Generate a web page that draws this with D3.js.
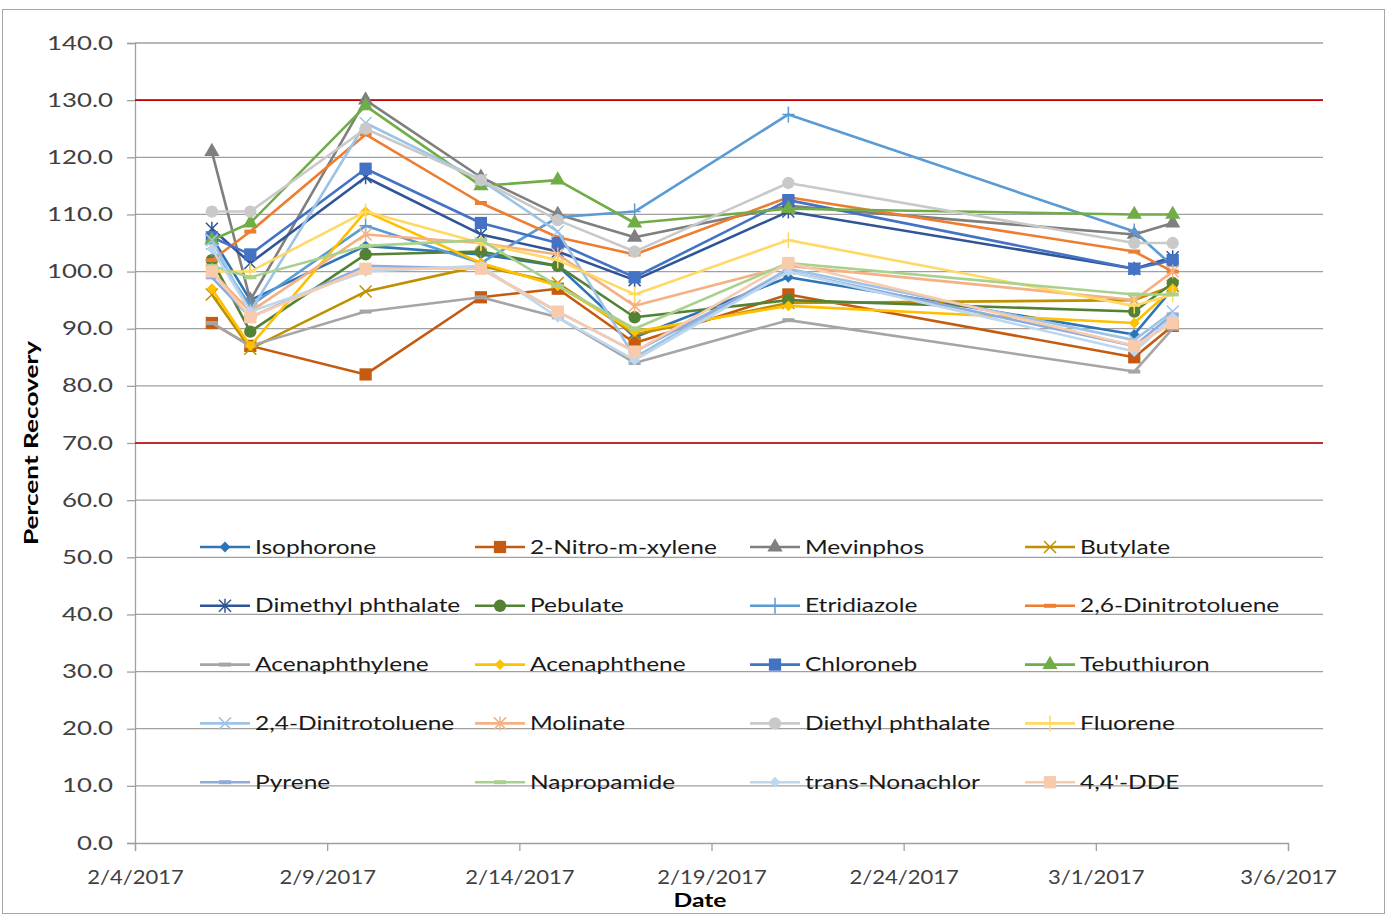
<!DOCTYPE html>
<html>
<head>
<meta charset="utf-8">
<script src="https://cdn.jsdelivr.net/npm/d3@7"></script>
<style>
  body { margin: 0; background: #fff; }
  svg { font-family: Lato, "Open Sans", sans-serif; }
</style>
</head>
<body>
<div id="chart"></div>
<script>
// Sample dates and percent recovery per compound
const dates = ["2/6/2017", "2/7/2017", "2/10/2017", "2/13/2017", "2/15/2017", "2/17/2017", "2/21/2017", "3/2/2017", "3/3/2017"];
const xTickLabels = ["2/4/2017", "2/9/2017", "2/14/2017", "2/19/2017", "2/24/2017", "3/1/2017", "3/6/2017"];
const yTicks = [0, 10, 20, 30, 40, 50, 60, 70, 80, 90, 100, 110, 120, 130, 140];
const limits = [70, 130];

const isophorone       = [106.0, 95.0, 104.5, 103.0, 101.0, 88.5, 99.0, 89.0, 97.0];
const nitroXylene      = [91.0, 87.0, 82.0, 95.5, 97.0, 87.5, 96.0, 85.0, 90.5];
const mevinphos        = [121.0, 95.0, 130.0, 116.5, 110.0, 106.0, 111.5, 106.5, 108.5];
const butylate         = [96.0, 86.5, 96.5, 101.0, 98.0, 89.0, 94.5, 95.0, 97.5];
const dimethylPhth     = [107.5, 101.5, 116.5, 106.5, 103.5, 98.5, 110.5, 100.5, 102.5];
const pebulate         = [102.0, 89.5, 103.0, 103.5, 101.0, 92.0, 95.0, 93.0, 98.0];
const etridiazole      = [104.0, 94.0, 108.0, 101.5, 109.5, 110.5, 127.5, 107.0, 101.0];
const dnt26            = [102.0, 107.0, 124.0, 112.0, 106.0, 103.0, 113.0, 103.5, 100.0];
const acenaphthylene   = [91.0, 87.0, 93.0, 95.5, 92.0, 84.0, 91.5, 82.5, 90.0];
const acenaphthene     = [97.0, 87.0, 110.5, 101.5, 97.5, 89.5, 94.0, 91.0, 97.0];
const chloroneb        = [106.0, 103.0, 118.0, 108.5, 105.0, 99.0, 112.5, 100.5, 102.0];
const tebuthiuron      = [105.5, 108.5, 129.0, 115.0, 116.0, 108.5, 111.0, 110.0, 110.0];
const dnt24            = [105.5, 93.0, 126.0, 116.0, 107.0, 85.0, 100.5, 88.0, 93.0];
const molinate         = [100.0, 93.0, 106.5, 105.0, 103.0, 94.0, 101.0, 95.0, 100.0];
const diethylPhth      = [110.5, 110.5, 125.0, 116.0, 109.0, 103.5, 115.5, 105.0, 105.0];
const fluorene         = [100.0, 100.0, 110.5, 105.0, 102.0, 96.0, 105.5, 94.0, 96.0];
const pyrene           = [99.0, 92.0, 101.0, 100.5, 93.0, 86.0, 100.0, 87.0, 92.5];
const napropamide      = [101.0, 99.0, 104.5, 105.5, 97.5, 90.0, 101.5, 96.0, 96.0];
const transNonachlor   = [104.0, 93.0, 100.0, 101.0, 92.0, 84.5, 100.0, 86.0, 92.0];
const dde              = [100.0, 92.0, 100.5, 100.5, 93.0, 86.0, 101.5, 87.0, 91.0];

const seriesNames = ["Isophorone", "2-Nitro-m-xylene", "Mevinphos", "Butylate",
  "Dimethyl phthalate", "Pebulate", "Etridiazole", "2,6-Dinitrotoluene",
  "Acenaphthylene", "Acenaphthene", "Chloroneb", "Tebuthiuron",
  "2,4-Dinitrotoluene", "Molinate", "Diethyl phthalate", "Fluorene",
  "Pyrene", "Napropamide", "trans-Nonachlor", "4,4'-DDE"];
const seriesValues = [isophorone, nitroXylene, mevinphos, butylate,
  dimethylPhth, pebulate, etridiazole, dnt26,
  acenaphthylene, acenaphthene, chloroneb, tebuthiuron,
  dnt24, molinate, diethylPhth, fluorene,
  pyrene, napropamide, transNonachlor, dde];
const seriesColors = ["#2E75B6", "#C55A11", "#7F7F7F", "#BF9000",
  "#2F5597", "#548235", "#5B9BD5", "#ED7D31",
  "#A5A5A5", "#FFC000", "#4472C4", "#70AD47",
  "#9DC3E6", "#F4B183", "#C9C9C9", "#FFD966",
  "#8FAADC", "#A9D18E", "#BDD7EE", "#F8CBAD"];
const seriesMarkers = ["diamond", "square", "triangle", "x", "star", "circle", "plus", "dash",
  "dash", "diamond", "square", "triangle", "x", "star", "circle", "plus",
  "dash", "dash", "diamond", "square"];

const W = 1386, H = 915;
const plotLeft = 135, plotRight = 1323, plotTop = 43, plotBottom = 843;
const parse = d3.timeParse("%m/%d/%Y");
const fmt = d3.timeFormat("%-m/%-d/%Y");

const x = d3.scaleTime()
  .domain([parse(xTickLabels[0]), parse(xTickLabels[xTickLabels.length - 1])])
  .range([plotLeft, 1288]);
const y = d3.scaleLinear().domain([0, 140]).range([plotBottom, plotTop]);

const svg = d3.select("#chart").append("svg")
  .attr("width", W).attr("height", H);

// cadre
svg.append("rect")
  .attr("x", 2.5).attr("y", 9.5).attr("width", W - 4).attr("height", H - 11)
  .attr("fill", "none").attr("stroke", "#A6A6A6").attr("stroke-width", 1);

// grille horizontale
svg.append("g")
  .selectAll("line")
  .data(yTicks.slice(1))
  .join("line")
  .attr("x1", plotLeft).attr("x2", plotRight)
  .attr("y1", d => y(d)).attr("y2", d => y(d))
  .attr("stroke", "#A0A0A0").attr("stroke-width", 1.3);

// axe Y (texte étiré en largeur comme l'original)
const ySx = 1.36;
const yAxis = svg.append("g")
  .attr("transform", `translate(${plotLeft},0)`)
  .call(d3.axisLeft(y).tickValues(yTicks).tickFormat(d3.format(".1f")).tickSize(8).tickPadding(13));
yAxis.select(".domain").attr("stroke", "#A0A0A0").attr("stroke-width", 1.3);
yAxis.selectAll(".tick line").attr("stroke", "#A0A0A0").attr("stroke-width", 1.3);
yAxis.selectAll("text").attr("font-size", 19).attr("fill", "#404040")
  .attr("font-family", "Lato, sans-serif")
  .attr("x", -22 / ySx)
  .attr("transform", `scale(${ySx},1)`);

// axe X
const xSx = 1.16;
const xAxis = svg.append("g")
  .attr("transform", `translate(0,${plotBottom})`)
  .call(d3.axisBottom(x).tickValues(xTickLabels.map(parse)).tickFormat(fmt).tickSize(8).tickPadding(20));
xAxis.select(".domain").attr("stroke", "#A0A0A0").attr("stroke-width", 1.3);
xAxis.selectAll(".tick line").attr("stroke", "#A0A0A0").attr("stroke-width", 1.3);
xAxis.selectAll("text").attr("font-size", 19).attr("fill", "#404040")
  .attr("font-family", "Lato, sans-serif")
  .attr("transform", `scale(${xSx},1)`);

// limites 70 / 130
svg.append("g")
  .selectAll("line")
  .data(limits)
  .join("line")
  .attr("x1", plotLeft).attr("x2", plotRight)
  .attr("y1", d => y(d)).attr("y2", d => y(d))
  .attr("stroke", "#C00000").attr("stroke-width", 1.6);

// titres
svg.append("text")
  .attr("transform", `translate(38,${(plotTop + plotBottom) / 2}) rotate(-90) scale(1.38,1)`)
  .attr("text-anchor", "middle")
  .attr("font-size", 19).attr("font-weight", "bold").attr("fill", "#000")
  .text("Percent Recovery");
svg.append("text")
  .attr("transform", "translate(700,907) scale(1.3,1)")
  .attr("text-anchor", "middle")
  .attr("font-size", 19).attr("font-weight", "bold").attr("fill", "#000")
  .text("Date");

function drawMarker(g, type, color) {
  if (type === "diamond") {
    g.append("path").attr("d", d3.symbol(d3.symbolDiamond2, 75)()).attr("fill", color);
  } else if (type === "square") {
    g.append("path").attr("d", d3.symbol(d3.symbolSquare, 150)()).attr("fill", color);
  } else if (type === "triangle") {
    g.append("path").attr("d", d3.symbol(d3.symbolTriangle, 100)()).attr("fill", color);
  } else if (type === "circle") {
    g.append("path").attr("d", d3.symbol(d3.symbolCircle, 120)()).attr("fill", color);
  } else if (type === "x") {
    g.append("path").attr("d", "M-6,-6L6,6M-6,6L6,-6").attr("stroke", color).attr("stroke-width", 1.5);
  } else if (type === "star") {
    g.append("path").attr("d", "M-6,-6L6,6M-6,6L6,-6M0,-7L0,7").attr("stroke", color).attr("stroke-width", 1.5);
  } else if (type === "plus") {
    g.append("path").attr("d", "M0,-8L0,8M-6,0L6,0").attr("stroke", color).attr("stroke-width", 1.5);
  } else if (type === "dash") {
    g.append("path").attr("d", "M-6,0L6,0").attr("stroke", color).attr("stroke-width", 4);
  }
}

const line = d3.line()
  .x((d, i) => x(parse(dates[i])))
  .y(d => y(d));

// séries
seriesValues.forEach((vals, s) => {
  const g = svg.append("g").attr("class", "series");
  g.append("path")
    .datum(vals)
    .attr("d", line)
    .attr("fill", "none")
    .attr("stroke", seriesColors[s])
    .attr("stroke-width", 2.6)
    .attr("stroke-linejoin", "round");
  vals.forEach((v, i) => {
    const m = g.append("g").attr("transform", `translate(${x(parse(dates[i]))},${y(v)})`);
    drawMarker(m, seriesMarkers[s], seriesColors[s]);
  });
});

// légende
const lSx = 1.29;
const legend = svg.append("g");
seriesNames.forEach((name, s) => {
  const col = s % 4, row = Math.floor(s / 4);
  const lx = 200 + col * 275, ly = 547 + row * 58.8;
  const item = legend.append("g").attr("transform", `translate(${lx},${ly})`);
  item.append("line").attr("x1", 0).attr("x2", 50).attr("y1", 0).attr("y2", 0)
    .attr("stroke", seriesColors[s]).attr("stroke-width", 2.6);
  drawMarker(item.append("g").attr("transform", "translate(25,0)"), seriesMarkers[s], seriesColors[s]);
  item.append("text")
    .attr("transform", `translate(55,0) scale(${lSx},1)`)
    .attr("dy", "0.35em")
    .attr("font-size", 19).attr("fill", "#1a1a1a")
    .text(name);
});
</script>
</body>
</html>
